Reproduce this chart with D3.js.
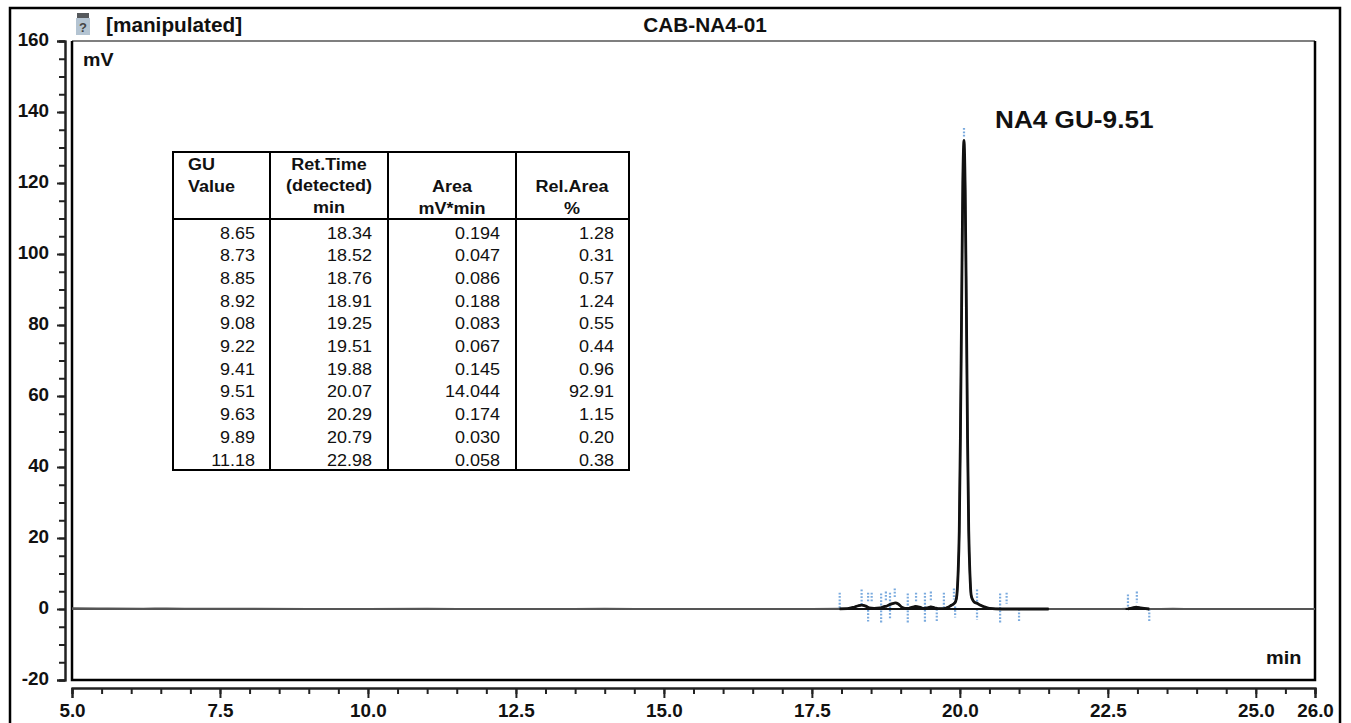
<!doctype html>
<html lang="en">
<head>
  <meta charset="utf-8">
  <title>CAB-NA4-01</title>
  <script src="https://d3js.org/d3.v7.min.js"></script>
</head>
<body style="margin: 0; background: #fff; overflow: hidden;">
  <svg width="1351" height="723" style="display: block;"></svg>
  <script>
    // chromatogram trace
    var traceTime = [5, 5.6, 6.2, 6.6, 7.2, 8, 9, 10, 11, 12, 13, 14, 15, 16, 17, 17.5, 17.97, 18.1, 18.2, 18.27, 18.34, 18.41, 18.47, 18.55, 18.65, 18.72, 18.76, 18.81, 18.86, 18.91, 18.96, 19.02, 19.08, 19.14, 19.2, 19.25, 19.32, 19.39, 19.45, 19.51, 19.57, 19.63, 19.72, 19.8, 19.85, 19.9, 19.93, 19.95, 19.97, 19.99, 20.01, 20.03, 20.05, 20.07, 20.09, 20.11, 20.13, 20.15, 20.17, 20.19, 20.21, 20.24, 20.29, 20.34, 20.4, 20.5, 20.7, 21, 21.5, 22, 22.6, 22.84, 22.92, 22.98, 23.05, 23.2, 23.6, 24, 25, 26];
    var traceMv = [0.2, 0.15, 0.1, 0.15, 0.05, 0.05, 0, 0, 0.05, 0, 0, 0.05, 0, 0, 0, 0, 0.05, 0.1, 0.45, 0.85, 1.1, 0.8, 0.3, 0.2, 0.3, 0.65, 0.8, 1.2, 1.5, 1.7, 1.4, 0.5, 0.15, 0.2, 0.5, 0.7, 0.5, 0.15, 0.3, 0.6, 0.35, 0.1, 0.1, 0.5, 1, 1.5, 2.2, 4, 10, 22, 50, 85, 120, 132, 118, 85, 48, 22, 10, 4, 2.8, 2, 1.6, 1.1, 0.7, 0.2, 0, 0, 0, 0, 0, 0.05, 0.35, 0.55, 0.3, 0, 0.05, 0, 0, 0];

    // stretches of the run where the trace prints darker (min)
    var darkStart = [17.97, 22.8];
    var darkEnd = [21.5, 23.2];

    // peak delimiter marks: time, top and bottom in mV
    var markTime = [17.97, 18.34, 18.45, 18.45, 18.51, 18.67, 18.75, 18.82, 18.90, 19.12, 19.26, 19.41, 19.51, 19.61, 19.73, 19.90, 19.92, 20.07, 20.29, 20.29, 20.68, 20.79, 21.0, 22.84, 22.99, 23.2];
    var markTop = [4.6, 5.5, 4.6, 0.7, 4.6, 4.4, 4.9, 4.6, 5.8, 4.4, 4.6, 4.6, 4.9, 0, 4.6, 5.8, 0.7, 135.5, 5.5, 0, 4.4, 4.6, 0, 4.1, 4.9, 0];
    var markBottom = [-0.1, 1.3, 1.8, -3.5, 1.8, -3.8, 2.1, -3, 3.2, -3.8, 2.1, -3.6, 2.1, -3.8, 0.4, 2.7, -2.4, 133, 2.1, -3, -3.8, 1.5, -3.8, 0.4, 1.8, -3.8];

    // results table
    var guValue = ["8.65", "8.73", "8.85", "8.92", "9.08", "9.22", "9.41", "9.51", "9.63", "9.89", "11.18"];
    var retTime = ["18.34", "18.52", "18.76", "18.91", "19.25", "19.51", "19.88", "20.07", "20.29", "20.79", "22.98"];
    var areaVal = ["0.194", "0.047", "0.086", "0.188", "0.083", "0.067", "0.145", "14.044", "0.174", "0.030", "0.058"];
    var relArea = ["1.28", "0.31", "0.57", "1.24", "0.55", "0.44", "0.96", "92.91", "1.15", "0.20", "0.38"];

    // ticks
    var xMajor = [5, 7.5, 10, 12.5, 15, 17.5, 20, 22.5, 25, 26];
    var xLabels = ["5.0", "7.5", "10.0", "12.5", "15.0", "17.5", "20.0", "22.5", "25.0", "26.0"];
    var xMinor = d3.range(5, 26.01, 0.5);
    var yMajor = [160, 140, 120, 100, 80, 60, 40, 20, 0, -20];
    var yMinor = d3.range(-20, 160.01, 5);

    var svg = d3.select("svg");
    var font = "'Liberation Sans', Arial, sans-serif";
    var ink = "#111";
    var wide = 1.06; // the screenshot is stretched sideways a bit

    var plotL = 72, plotR = 1315, plotT = 41, plotB = 680;
    var x = d3.scaleLinear().domain([5, 26]).range([plotL, plotR]);
    var y = d3.scaleLinear().domain([-20, 160]).range([plotB, plotT]);

    function label(sel, px, py, txt, anchor, size, weight) {
      return sel.append("text")
        .attr("transform", "translate(" + px + "," + py + ") scale(" + wide + ",1)")
        .attr("text-anchor", anchor)
        .attr("font-family", font)
        .attr("font-size", size)
        .attr("font-weight", weight)
        .attr("fill", ink)
        .text(txt);
    }

    // outer frame, runs off the bottom of the shot
    svg.append("rect")
      .attr("x", 10).attr("y", 8)
      .attr("width", 1330).attr("height", 760)
      .attr("fill", "none").attr("stroke", "#000").attr("stroke-width", 2.5);

    // the little file icon next to the title
    var icon = svg.append("g").attr("transform", "translate(76,13)");
    icon.append("rect").attr("x", 1).attr("y", 0).attr("width", 12).attr("height", 5).attr("fill", "#55595c");
    icon.append("rect").attr("x", 0).attr("y", 5).attr("width", 14).attr("height", 17).attr("fill", "#b4c4d2");
    icon.append("text").attr("x", 7).attr("y", 19).attr("text-anchor", "middle")
      .attr("font-family", font).attr("font-size", 13).attr("font-weight", "bold").attr("fill", "#444").text("?");

    label(svg, 106, 32, "[manipulated]", "start", 19.6, "bold");
    label(svg, 705, 32, "CAB-NA4-01", "middle", 19.6, "bold");

    // y axis
    var yAxisG = svg.append("g").attr("transform", "translate(65,0)");
    yAxisG.append("g").call(d3.axisLeft(y).tickValues(yMinor).tickSize(6).tickFormat(""));
    var yMajorG = yAxisG.append("g").call(d3.axisLeft(y).tickValues(yMajor).tickSize(8).tickFormat(String));
    yMajorG.selectAll("text")
      .attr("transform", "scale(" + wide + ",1)")
      .attr("x", -15).attr("dy", "0.24em");

    // x axis
    var xAxisG = svg.append("g").attr("transform", "translate(0,688)");
    xAxisG.append("g").call(d3.axisBottom(x).tickValues(xMinor).tickSize(6).tickFormat(""));
    var xMajorG = xAxisG.append("g").call(d3.axisBottom(x).tickValues(xMajor).tickSize(10)
      .tickFormat(function(d, i) { return xLabels[i]; }));
    xMajorG.selectAll("text")
      .attr("transform", "scale(" + wide + ",1)")
      .attr("y", 16).attr("dy", "0.71em");

    svg.selectAll(".domain, .tick line")
      .attr("stroke", "#222").attr("stroke-width", 2);
    svg.selectAll(".tick text")
      .attr("font-family", font).attr("font-size", 17.8).attr("font-weight", "bold").attr("fill", ink);

    // plot box
    var box = svg.append("g").attr("fill", "none").attr("stroke", "#000");
    box.append("path").attr("d", d3.line()([[plotR, plotT], [plotL, plotT]])).attr("stroke", "#555").attr("stroke-width", 1.5);
    box.append("path").attr("d", d3.line()([[plotL, plotT], [plotL, plotB], [plotR, plotB], [plotR, plotT]])).attr("stroke-width", 2.5);

    label(svg, 83, 66, "mV", "start", 18.5, "bold");
    label(svg, 1266, 664, "min", "start", 18.8, "bold");
    label(svg, 995, 128, "NA4 GU-9.51", "start", 24.7, "bold");

    // delimiter marks go under the trace
    svg.append("g").selectAll("line")
      .data(markTime)
      .enter().append("line")
        .attr("x1", function(d) { return x(d); })
        .attr("x2", function(d) { return x(d); })
        .attr("y1", function(d, i) { return y(markTop[i]); })
        .attr("y2", function(d, i) { return y(markBottom[i]); })
        .attr("stroke", "#7aaade")
        .attr("stroke-width", 2.2)
        .attr("stroke-dasharray", "1.8 1.6");

    function isDark(t) {
      return darkStart.some(function(s, i) { return t >= s && t <= darkEnd[i]; });
    }

    var line = d3.line()
      .x(function(d, i) { return x(traceTime[i]); })
      .y(function(d) { return y(d); })
      .curve(d3.curveMonotoneX);

    // flat line across the whole run
    svg.append("path")
      .attr("d", d3.line()([[x(5), y(0)], [x(26), y(0)]]))
      .attr("fill", "none").attr("stroke", "#555").attr("stroke-width", 2);

    svg.append("path")
      .attr("d", line(traceMv))
      .attr("fill", "none").attr("stroke", "#555").attr("stroke-width", 2);

    svg.append("g").selectAll("line")
      .data(darkStart)
      .enter().append("line")
        .attr("x1", function(d) { return x(d); })
        .attr("x2", function(d, i) { return x(darkEnd[i]); })
        .attr("y1", y(0)).attr("y2", y(0))
        .attr("stroke", "#111").attr("stroke-width", 2);

    svg.append("path")
      .attr("d", line.defined(function(d, i) { return isDark(traceTime[i]); })(traceMv))
      .attr("fill", "none").attr("stroke", "#111").attr("stroke-width", 2.8)
      .attr("stroke-linejoin", "round");

    // table
    var tLeft = 173, tRight = 629, tTop = 152, tBottom = 470, tHead = 219;
    var colEdges = [270, 388, 516];
    var table = svg.append("g");
    table.append("rect")
      .attr("x", tLeft).attr("y", tTop)
      .attr("width", tRight - tLeft).attr("height", tBottom - tTop)
      .attr("fill", "#fff").attr("stroke", "#000").attr("stroke-width", 2);
    table.append("line").attr("x1", tLeft).attr("x2", tRight).attr("y1", tHead).attr("y2", tHead)
      .attr("stroke", "#000").attr("stroke-width", 2);
    table.selectAll(".col").data(colEdges).enter().append("line")
      .attr("class", "col")
      .attr("x1", function(d) { return d; }).attr("x2", function(d) { return d; })
      .attr("y1", tTop).attr("y2", tBottom)
      .attr("stroke", "#000").attr("stroke-width", 2);

    label(table, 188, 170, "GU", "start", 17, "bold");
    label(table, 188, 192, "Value", "start", 17, "bold");
    label(table, 329, 170, "Ret.Time", "middle", 17, "bold");
    label(table, 329, 191, "(detected)", "middle", 17, "bold");
    label(table, 329, 213, "min", "middle", 17, "bold");
    label(table, 452, 192, "Area", "middle", 17, "bold");
    label(table, 452, 214, "mV*min", "middle", 17, "bold");
    label(table, 572, 192, "Rel.Area", "middle", 17, "bold");
    label(table, 572, 214, "%", "middle", 17, "bold");

    var rowY = d3.scaleLinear().domain([0, guValue.length - 1]).range([238.5, 465.5]);
    [[guValue, 255], [retTime, 372], [areaVal, 500], [relArea, 614]].forEach(function(col) {
      col[0].forEach(function(v, i) {
        label(table, col[1], rowY(i), v, "end", 17, "normal");
      });
    });
  </script>
</body>
</html>
